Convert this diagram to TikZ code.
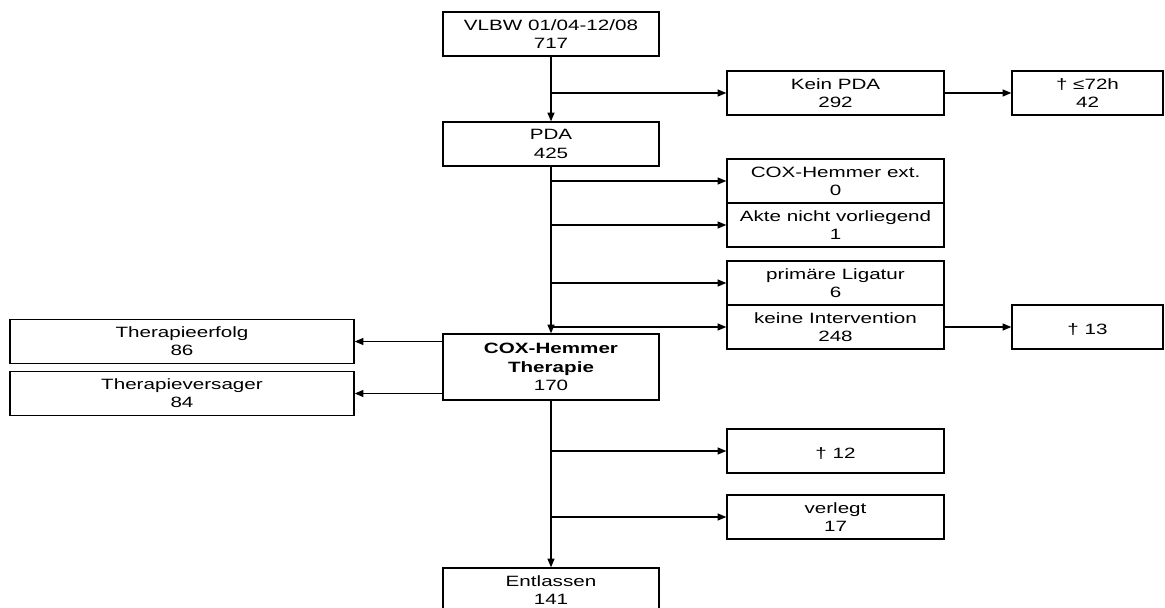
\documentclass[tikz,border=0pt]{standalone}
\usepackage{fontspec}
\setmainfont{Liberation Sans}[FakeStretch=1.38]
\usetikzlibrary{arrows.meta}

\tikzset{
  flowbox/.style={draw, line width=0.75pt, minimum height=0.88cm, align=center, inner sep=1pt,
    font=\fontsize{8.5}{10.4}\selectfont, execute at begin node={\leavevmode\rule{0pt}{9.5pt}}},
  flowarrow/.style={-{Triangle[length=5pt, width=4pt]}, line width=0.75pt}
}

\begin{document}
\begin{tikzpicture}
  \useasboundingbox (0,0) rectangle (23.3,-12.16);

  % Main column
  \node[flowbox, minimum width=4.32cm] (vlbw) at (11.02,-0.68) {VLBW 01/04-12/08\\717};
  \node[flowbox, minimum width=4.32cm] (pda) at (11.02,-2.88) {PDA\\425};
  \node[flowbox, minimum width=4.32cm, minimum height=1.32cm] (cox) at (11.02,-7.34) {\textbf{COX-Hemmer}\\\textbf{Therapie}\\170};
  \node[flowbox, minimum width=4.32cm] (entl) at (11.02,-11.8) {Entlassen\\141};

  % Right column
  \node[flowbox, minimum width=4.34cm] (keinpda) at (16.71,-1.86) {Kein PDA\\292};
  \node[flowbox, minimum width=4.34cm] (coxext) at (16.71,-3.62) {COX-Hemmer ext.\\0};
  \node[flowbox, minimum width=4.34cm] (akte) at (16.71,-4.50) {Akte nicht vorliegend\\1};
  \node[flowbox, minimum width=4.34cm] (primaere) at (16.71,-5.66) {primäre Ligatur\\6};
  \node[flowbox, minimum width=4.34cm] (keine) at (16.71,-6.54) {keine Intervention\\248};
  \node[flowbox, minimum width=4.34cm] (tod12) at (16.71,-9.02) {† 12};
  \node[flowbox, minimum width=4.34cm] (verlegt) at (16.71,-10.34) {verlegt\\17};

  % Deaths
  \node[flowbox, minimum width=3.02cm] (tod72) at (21.75,-1.86) {† ≤72h\\42};
  \node[flowbox, minimum width=3.02cm] (tod13) at (21.75,-6.54) {† 13};

  % Therapy outcome
  \node[flowbox, minimum width=6.88cm] (erfolg) at (3.64,-6.83) {Therapieerfolg\\86};
  \node[flowbox, minimum width=6.88cm] (versager) at (3.64,-7.87) {Therapieversager\\84};

  % Connectors
  \draw[flowarrow] (vlbw) -- (pda);
  \draw[flowarrow] (pda) -- (cox);
  \draw[flowarrow] (cox) -- (entl);
  \draw[flowarrow] (vlbw.south |- keinpda.west) -- (keinpda.west);
  \draw[flowarrow] (keinpda) -- (tod72);
  \foreach \n in {coxext, akte, primaere, keine}
    \draw[flowarrow] (pda.south |- \n.west) -- (\n.west);
  \draw[flowarrow] (keine) -- (tod13);
  \draw[flowarrow] (cox.west |- erfolg.east) -- (erfolg.east);
  \draw[flowarrow] (cox.west |- versager.east) -- (versager.east);
  \foreach \n in {tod12, verlegt}
    \draw[flowarrow] (cox.south |- \n.west) -- (\n.west);
\end{tikzpicture}
\end{document}
